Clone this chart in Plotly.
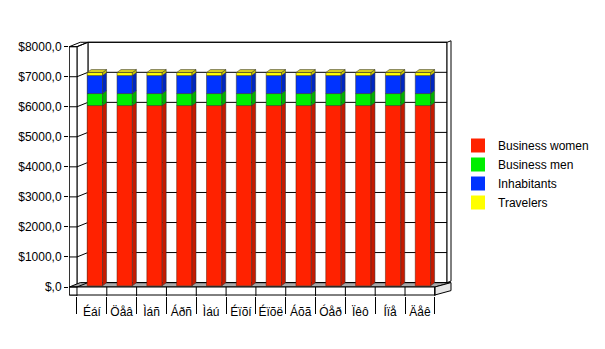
import plotly.graph_objects as go

# ---------------- data ----------------
months = ["Éáí", "Öåâ", "Ìáñ", "Áðñ", "Ìáú", "Éïõí", "Éïõë", "Áõã", "Óåð", "Ïêô", "Íïå", "Äåê"]
series_names = ["Business women", "Business men", "Inhabitants", "Travelers"]
business_women = [6000, 6000, 6000, 6000, 6000, 6000, 6000, 6000, 6000, 6000, 6000, 6000]
business_men = [400, 400, 400, 400, 400, 400, 400, 400, 400, 400, 400, 400]
inhabitants = [600, 600, 600, 600, 600, 600, 600, 600, 600, 600, 600, 600]
travelers = [100, 100, 100, 100, 100, 100, 100, 100, 100, 100, 100, 100]
y_tick_values = [0, 1000, 2000, 3000, 4000, 5000, 6000, 7000, 8000]
y_tick_labels = ["$,0", "$1000,0", "$2000,0", "$3000,0", "$4000,0",
                 "$5000,0", "$6000,0", "$7000,0", "$8000,0"]

series = [business_women, business_men, inhabitants, travelers]
front_colors = ["#ff2200", "#00ee00", "#0033ff", "#ffff00"]
side_colors = ["#c41a00", "#00b000", "#0026c0", "#c8c800"]
top_color = "#d8d020"

# ---------------- geometry (pixel based projection) ----------------
W, H = 605, 349
L, R, T, B = 69, 455, 36, 296
PX0, CAT_W = 77.0, 29.9
PY0, PX_PER_V = 287.0, 0.03004


def X(px):
    return (px - PX0) / CAT_W - 0.5


def V(py):
    return (PY0 - py) / PX_PER_V


wdx, wdv = 11 / CAT_W, 4.4 / PX_PER_V      # wall depth
bsx, bsv = 3 / CAT_W, 1.2 / PX_PER_V       # bar front-face shift
bdx, bdv = 4 / CAT_W, 3.0 / PX_PER_V       # bar depth
bw = 15.4 / CAT_W                          # bar width
n = len(months)
x_left, x_right = -0.5, n - 0.5
vmax = y_tick_values[-1]

shapes = []
LINE = dict(color="black", width=1)


def poly(pts, fill, line=LINE):
    d = "M " + " L ".join(f"{px},{py}" for px, py in pts) + " Z"
    shapes.append(dict(type="path", path=d, xref="x", yref="y",
                       fillcolor=fill, line=line, layer="below"))


def seg(x0, y0, x1, y1, line=LINE, yref="y"):
    shapes.append(dict(type="line", x0=x0, y0=y0, x1=x1, y1=y1, xref="x", yref=yref,
                       line=line, layer="below"))


# back wall
poly([(x_left + wdx, wdv), (X(448), wdv), (X(448), vmax + wdv), (x_left + wdx, vmax + wdv)], "white")
# back wall thickness (right)
poly([(X(448), wdv), (X(452), wdv + 1.5 / PX_PER_V), (X(452), vmax + wdv + 1.5 / PX_PER_V),
      (X(448), vmax + wdv)], "white")
# left wall
poly([(x_left, 0), (x_left + wdx, wdv), (x_left + wdx, vmax + wdv), (x_left, vmax)], "white")
# left wall outer edge
xo = X(69.3)
poly([(xo, V(295)), (x_left, V(295)), (x_left, vmax), (xo, vmax)], "white")
seg(xo, vmax, xo + wdx, vmax + wdv)
seg(xo + wdx, vmax + wdv, x_left + wdx, vmax + wdv)
# floor (top face)
poly([(xo, 0), (x_right, 0), (X(452), wdv), (xo + wdx, wdv)], "#a9a9a9")
# floor slab front and side
poly([(xo, 0), (x_right, 0), (x_right, V(295)), (xo, V(295))], "white")
poly([(x_right, 0), (X(452), wdv), (X(452), wdv + V(295)), (x_right, V(295))], "#e6e6e6")
# grid lines on walls + inner part of y ticks
for v in y_tick_values:
    seg(x_left, v, x_left + wdx, v + wdv)
    seg(x_left + wdx, v + wdv, X(448), v + wdv)
    seg(X(L), v, x_left, v)
# category separators on slab
for i in range(n + 1):
    seg(x_left + i, 0, x_left + i, V(296))

fig = go.Figure()

# front faces (stacked bars)
lows = [0.0] * n
for k, (name, vals) in enumerate(zip(series_names, series)):
    base = [bsv + lows[i] for i in range(n)]
    fig.add_trace(go.Bar(
        x=[i + bsx for i in range(n)], y=vals, base=base, width=bw,
        marker=dict(color=front_colors[k], line=dict(color="#5a1a00" if k == 0 else "#303030", width=0.5)),
        name=name, showlegend=False, legendgroup=name, hoverinfo="name+y"))
    # side faces
    sx, sy = [], []
    for i in range(n):
        xr = i + bsx + bw / 2
        lo = base[i]
        hi = base[i] + vals[i]
        sx += [xr, xr + bdx, xr + bdx, xr, xr, None]
        sy += [lo, lo + bdv, hi + bdv, hi, lo, None]
    fig.add_trace(go.Scatter(x=sx, y=sy, mode="lines", fill="toself",
                             fillcolor=side_colors[k], line=dict(color="#303030", width=0.5),
                             showlegend=False, hoverinfo="skip", legendgroup=name))
    lows = [lows[i] + vals[i] for i in range(n)]

# top faces of the stacks
tx, ty = [], []
for i in range(n):
    xl = i + bsx - bw / 2
    xr = i + bsx + bw / 2
    hi = bsv + lows[i]
    tx += [xl, xr, xr + bdx, xl + bdx, xl, None]
    ty += [hi, hi, hi + bdv, hi + bdv, hi, None]
fig.add_trace(go.Scatter(x=tx, y=ty, mode="lines", fill="toself", fillcolor=top_color,
                         line=dict(color="#303030", width=0.5), showlegend=False, hoverinfo="skip"))

# legend entries
for k, name in enumerate(series_names):
    fig.add_trace(go.Scatter(x=[None], y=[None], mode="markers", name=name, legendgroup=name,
                             marker=dict(symbol="square", size=14, color=front_colors[k],
                                         line=dict(width=0))))

fig.update_layout(
    width=W, height=H,
    margin=dict(l=L, r=W - R, t=T, b=H - B, pad=0),
    paper_bgcolor="white", plot_bgcolor="white",
    font=dict(family="Liberation Sans, Arial, sans-serif", size=12, color="black"),
    barmode="overlay",
    shapes=shapes,
    showlegend=True,
    legend=dict(x=(458 - L) / (R - L), xanchor="left", y=(B - 174) / (B - T), yanchor="middle",
                traceorder="normal", font=dict(size=12), itemsizing="trace",
                bgcolor="rgba(0,0,0,0)", borderwidth=0, tracegroupgap=0),
    xaxis=dict(range=[X(L), X(R)], tickmode="array", tickvals=list(range(n)), ticktext=months,
               ticks="outside", ticklen=5, tickcolor="rgba(0,0,0,0)",
               showgrid=False, zeroline=False, showline=False, fixedrange=True,
               minor=dict(tickmode="linear", tick0=-0.5, dtick=1, ticks="outside",
                          ticklen=17, tickcolor="black", tickwidth=1, showgrid=False)),
    yaxis=dict(range=[V(B), V(T)], tickmode="array", tickvals=y_tick_values, ticktext=y_tick_labels,
               ticks="outside", ticklen=4, tickcolor="black", tickwidth=1,
               showgrid=False, zeroline=False, showline=False, fixedrange=True),
)

fig.write_html("out.html")
